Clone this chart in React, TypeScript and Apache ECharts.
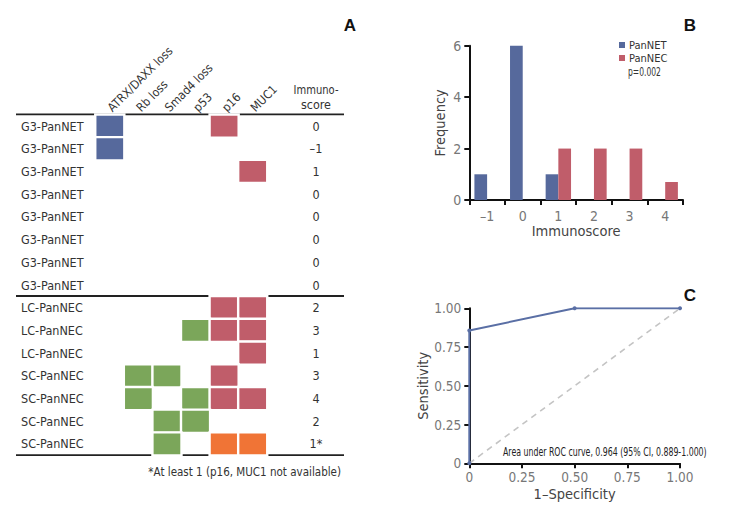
import React, { useEffect, useRef } from "react";
import * as echarts from "echarts";

// ---------- Panel A data ----------
const markers = ["ATRX/DAXX loss", "Rb loss", "Smad4 loss", "p53", "p16", "MUC1"];
const caseLabels = [
  "G3-PanNET", "G3-PanNET", "G3-PanNET", "G3-PanNET", "G3-PanNET", "G3-PanNET", "G3-PanNET", "G3-PanNET",
  "LC-PanNEC", "LC-PanNEC", "LC-PanNEC",
  "SC-PanNEC", "SC-PanNEC", "SC-PanNEC", "SC-PanNEC",
];
const immunoscores = ["0", "–1", "1", "0", "0", "0", "0", "0", "2", "3", "1", "3", "4", "2", "1*"];
// 0 = none, 1 = ATRX/DAXX loss (blue), 2 = positive (red), 3 = abnormal (green), 4 = not available (orange)
const markerMatrix = [
  [1, 0, 0, 0, 2, 0],
  [1, 0, 0, 0, 0, 0],
  [0, 0, 0, 0, 0, 2],
  [0, 0, 0, 0, 0, 0],
  [0, 0, 0, 0, 0, 0],
  [0, 0, 0, 0, 0, 0],
  [0, 0, 0, 0, 0, 0],
  [0, 0, 0, 0, 0, 0],
  [0, 0, 0, 0, 2, 2],
  [0, 0, 0, 3, 2, 2],
  [0, 0, 0, 0, 0, 2],
  [0, 3, 3, 0, 2, 0],
  [0, 3, 0, 3, 2, 2],
  [0, 0, 3, 3, 0, 0],
  [0, 0, 3, 0, 4, 4],
];

// ---------- Panel B data ----------
const scoreCategories = ["–1", "0", "1", "2", "3", "4"];
const panNETFreq = [1, 6, 1, 0, 0, 0];
const panNECFreq = [0, 0, 2, 2, 2, 0.7];

// ---------- Panel C data ----------
const rocFpr = [0, 0, 0.5, 1];
const rocTpr = [0, 0.857, 1, 1];
const diagX = [0, 1];
const diagY = [0, 1];

const BLUE = "#56699c";
const RED = "#c05d6a";
const GREEN = "#7ba65a";
const ORANGE = "#f07436";
const FONT = "'DejaVu Sans Condensed', Roboto, sans-serif";
const TXT = "#333";
const GREY = "#777";

function measure(text: string, size: number): number {
  const c = document.createElement("canvas").getContext("2d");
  if (!c) return text.length * size * 0.5;
  c.font = `${size}px ${FONT}`;
  return c.measureText(text).width || text.length * size * 0.5;
}

function fitText(text: string, x: number, y: number, size: number, width: number, align: string, fill: string, extra: any = {}) {
  const w = measure(text, size);
  const s = Math.min(1, width / w);
  return {
    type: "text",
    x,
    y,
    scaleX: s,
    style: { text, fontSize: size, fill, align, verticalAlign: "middle", fontFamily: FONT, ...extra },
  };
}

export default function App() {
  const ref = useRef<HTMLDivElement>(null);
  useEffect(() => {
    if (!ref.current) return;
    const chart = echarts.init(ref.current, null, { renderer: "svg" });

    const heatData: number[][] = [];
    markerMatrix.forEach((row, r) =>
      row.forEach((v, c) => {
        if (v) heatData.push([c, r, v]);
      })
    );

    const fmt2 = (v: number) => (v === 0 ? "0" : v.toFixed(2));
    const axisLineBlack = { show: true, lineStyle: { color: "#111", width: 2 } };
    const tickBlack = { show: true, length: 5, lineStyle: { color: "#111", width: 2 } };

    chart.setOption({
      animation: false,
      textStyle: { fontFamily: FONT },
      grid: [
        { left: 95.5, top: 114.7, width: 171.5, height: 340.6 },
        { left: 469.3, top: 45.7, width: 213.7, height: 154.3 },
        { left: 469.3, top: 308.3, width: 210.7, height: 155 },
      ],
      xAxis: [
        {
          type: "category",
          gridIndex: 0,
          position: "top",
          data: markers,
          axisLine: { show: false },
          axisTick: { show: false },
          axisLabel: { rotate: -45, margin: 5, fontSize: 12, color: TXT, fontFamily: FONT, interval: 0 },
        },
        {
          type: "category",
          gridIndex: 1,
          data: scoreCategories,
          boundaryGap: true,
          axisLine: axisLineBlack,
          axisTick: tickBlack,
          axisLabel: { fontSize: 14, color: GREY, margin: 9, fontFamily: FONT },
          name: "Immunoscore",
          nameLocation: "middle",
          nameGap: 22,
          nameTextStyle: { fontSize: 14.5, color: "#444", fontFamily: FONT },
        },
        {
          type: "value",
          gridIndex: 2,
          min: 0,
          max: 1,
          interval: 0.25,
          splitLine: { show: false },
          axisLine: axisLineBlack,
          axisTick: tickBlack,
          axisLabel: { fontSize: 13.5, color: GREY, margin: 7, formatter: fmt2, fontFamily: FONT },
          name: "1–Specificity",
          nameLocation: "middle",
          nameGap: 23,
          nameTextStyle: { fontSize: 14.5, color: "#444", fontFamily: FONT },
        },
      ],
      yAxis: [
        {
          type: "category",
          gridIndex: 0,
          inverse: true,
          data: caseLabels,
          axisLine: { show: false },
          axisTick: { show: false },
          axisLabel: { align: "left", margin: 74.5, fontSize: 12.5, color: TXT, fontFamily: FONT, interval: 0 },
        },
        {
          type: "category",
          gridIndex: 0,
          inverse: true,
          position: "right",
          data: immunoscores,
          axisLine: { show: false },
          axisTick: { show: false },
          axisLabel: { align: "center", margin: 49, fontSize: 12.5, color: TXT, fontFamily: FONT, interval: 0 },
        },
        {
          type: "value",
          gridIndex: 1,
          min: 0,
          max: 6,
          interval: 2,
          splitLine: { show: false },
          axisLine: axisLineBlack,
          axisTick: tickBlack,
          axisLabel: { fontSize: 14, color: GREY, margin: 8, fontFamily: FONT },
          name: "Frequency",
          nameLocation: "middle",
          nameGap: 22,
          nameTextStyle: { fontSize: 14.5, color: "#444", fontFamily: FONT },
        },
        {
          type: "value",
          gridIndex: 2,
          min: 0,
          max: 1,
          interval: 0.25,
          splitLine: { show: false },
          axisLine: axisLineBlack,
          axisTick: tickBlack,
          axisLabel: { fontSize: 13.5, color: GREY, margin: 8, formatter: fmt2, fontFamily: FONT },
          name: "Sensitivity",
          nameLocation: "middle",
          nameGap: 33,
          nameTextStyle: { fontSize: 14.5, color: "#444", fontFamily: FONT },
        },
      ],
      visualMap: {
        type: "piecewise",
        show: false,
        seriesIndex: 0,
        dimension: 2,
        pieces: [
          { value: 1, color: BLUE },
          { value: 2, color: RED },
          { value: 3, color: GREEN },
          { value: 4, color: ORANGE },
        ],
      },
      legend: {
        data: ["PanNET", "PanNEC"],
        orient: "vertical",
        left: 619,
        top: 39.5,
        padding: 0,
        itemWidth: 6,
        itemHeight: 6,
        itemGap: 2,
        icon: "rect",
        textStyle: { fontSize: 11, color: TXT, fontFamily: FONT, padding: [0, 0, 0, -1] },
      },
      series: [
        {
          type: "heatmap",
          xAxisIndex: 0,
          yAxisIndex: 0,
          data: heatData,
          itemStyle: { borderColor: "#fff", borderWidth: 2.4 },
        },
        {
          type: "bar",
          name: "PanNET",
          xAxisIndex: 1,
          yAxisIndex: 2,
          data: panNETFreq,
          barWidth: 12.7,
          barGap: "0%",
          itemStyle: { color: BLUE },
        },
        {
          type: "bar",
          name: "PanNEC",
          xAxisIndex: 1,
          yAxisIndex: 2,
          data: panNECFreq,
          barWidth: 12.7,
          barGap: "0%",
          itemStyle: { color: RED },
        },
        {
          type: "line",
          name: "diag",
          xAxisIndex: 2,
          yAxisIndex: 3,
          data: diagX.map((x, i) => [x, diagY[i]]),
          showSymbol: false,
          lineStyle: { color: "#c4c4c4", width: 1.6, type: [6, 5] },
          z: 1,
        },
        {
          type: "line",
          name: "ROC",
          xAxisIndex: 2,
          yAxisIndex: 3,
          data: rocFpr.map((x, i) => [x, rocTpr[i]]),
          symbol: "circle",
          symbolSize: 4,
          lineStyle: { color: "#5a6fa5", width: 2 },
          itemStyle: { color: "#5a6fa5" },
          z: 3,
        },
      ],
      graphic: [
        { type: "line", shape: { x1: 16, y1: 114.3, x2: 344, y2: 114.3 }, style: { stroke: "#222", lineWidth: 1.8 } },
        { type: "line", shape: { x1: 16, y1: 296, x2: 344, y2: 296 }, style: { stroke: "#222", lineWidth: 1.8 } },
        { type: "line", shape: { x1: 16, y1: 455.2, x2: 344, y2: 455.2 }, style: { stroke: "#222", lineWidth: 1.8 } },
        fitText("Immuno-", 316, 90, 13, 45, "center", TXT),
        fitText("score", 316, 104, 13, 30, "center", TXT),
        fitText("*At least 1 (p16, MUC1 not available)", 341, 472, 13, 193, "right", TXT),
        { type: "text", x: 350, y: 25, style: { text: "A", fontSize: 17, fontWeight: "bold", fill: "#111", align: "center", verticalAlign: "middle", fontFamily: "Arial, 'Liberation Sans', sans-serif" } },
        { type: "text", x: 690, y: 25, style: { text: "B", fontSize: 17, fontWeight: "bold", fill: "#111", align: "center", verticalAlign: "middle", fontFamily: "Arial, 'Liberation Sans', sans-serif" } },
        { type: "text", x: 690, y: 295, style: { text: "C", fontSize: 17, fontWeight: "bold", fill: "#111", align: "center", verticalAlign: "middle", fontFamily: "Arial, 'Liberation Sans', sans-serif" } },
        fitText("p=0.002", 628, 72, 11.5, 33, "left", TXT),
        fitText("Area under ROC curve, 0.964 (95% CI, 0.889-1.000)", 503, 452, 11.5, 204, "left", "#222"),
      ],
    });
    return () => chart.dispose();
  }, []);

  return (
    <div
      ref={ref}
      style={{ position: "fixed", left: 0, top: 0, width: 742, height: 506, background: "#fff" }}
    />
  );
}
